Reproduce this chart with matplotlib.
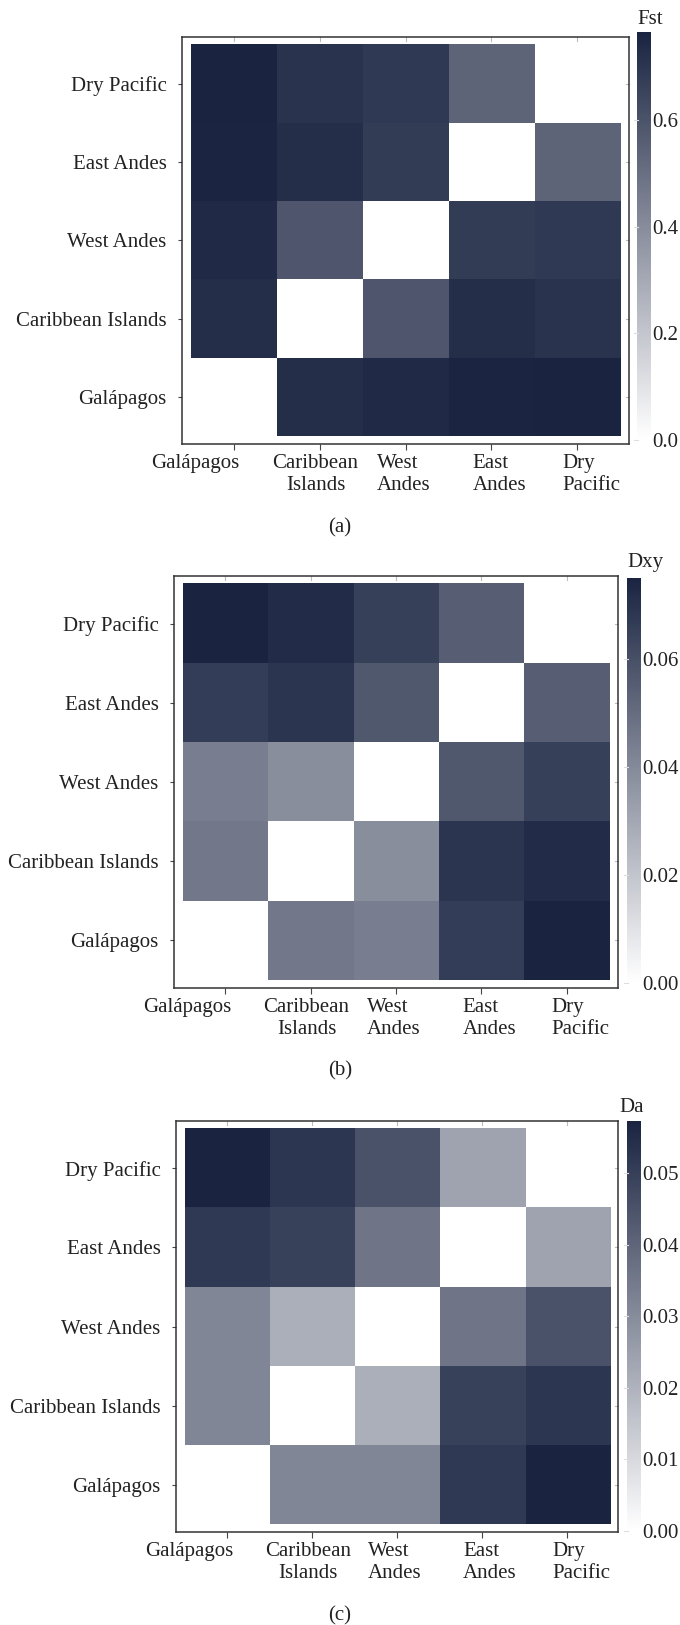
import matplotlib
matplotlib.use("Agg")
import matplotlib.pyplot as plt
import matplotlib.transforms as mtransforms
from matplotlib.colors import LinearSegmentedColormap
import numpy as np

plt.rcParams['font.family'] = ['Liberation Serif', 'DejaVu Serif']

# order of rows (bottom -> top) and columns (left -> right)
regions = ['Galápagos', 'Caribbean Islands', 'West Andes', 'East Andes', 'Dry Pacific']
x_labels = ['Galápagos', 'Caribbean\nIslands', 'West\nAndes', 'East\nAndes', 'Dry\nPacific']

fst = [
    [0.000, 0.730, 0.745, 0.760, 0.766],
    [0.730, 0.000, 0.590, 0.730, 0.710],
    [0.745, 0.590, 0.000, 0.680, 0.690],
    [0.760, 0.730, 0.680, 0.000, 0.540],
    [0.766, 0.710, 0.690, 0.540, 0.000],
]
dxy = [
    [0.0000, 0.0460, 0.0440, 0.0660, 0.0749],
    [0.0460, 0.0000, 0.0385, 0.0690, 0.0720],
    [0.0440, 0.0385, 0.0000, 0.0570, 0.0650],
    [0.0660, 0.0690, 0.0570, 0.0000, 0.0550],
    [0.0749, 0.0720, 0.0650, 0.0550, 0.0000],
]
da = [
    [0.0000, 0.0315, 0.0315, 0.0515, 0.0573],
    [0.0315, 0.0000, 0.0210, 0.0495, 0.0525],
    [0.0315, 0.0210, 0.0000, 0.0360, 0.0450],
    [0.0515, 0.0495, 0.0360, 0.0000, 0.0240],
    [0.0573, 0.0525, 0.0450, 0.0240, 0.0000],
]

fst_ticks = [0.0, 0.2, 0.4, 0.6]
dxy_ticks = [0.00, 0.02, 0.04, 0.06]
da_ticks = [0.00, 0.01, 0.02, 0.03, 0.04, 0.05]

W, H = 680, 1625
fig = plt.figure(figsize=(W / 100, H / 100), dpi=100)
cmap = LinearSegmentedColormap.from_list('navy', ['#ffffff', '#1a2441'])

# x label nudges (px) to mimic the hand-placed labels of the original
x_shift = [-38, -4, -2, 8, 14]
x_align = ['center', 'center', 'left', 'left', 'left']


def px_axes(l, r, t, b):
    return fig.add_axes([l / W, 1 - b / H, (r - l) / W, (b - t) / H])


def panel(values, ticks, fmt, title, caption, frame, cbox, title_xy, cap_y):
    vals = np.array(values)
    ax = px_axes(*frame)
    im = ax.imshow(vals, cmap=cmap, origin='lower', aspect='auto',
                   interpolation='nearest', vmin=0, vmax=vals.max())
    ax.set_xlim(-0.6, 4.6)
    ax.set_ylim(-0.6, 4.6)
    ax.set_xticks(range(5))
    ax.set_yticks(range(5))
    ax.set_xticklabels(x_labels, fontsize=15, color='#222222')
    ax.set_yticklabels(regions, fontsize=15, color='#222222')
    ax.tick_params(axis='x', length=4, width=0.8, color='#444444', pad=3)
    ax.tick_params(axis='y', length=3, width=0.8, color='#444444', pad=8)
    for spine in ax.spines.values():
        spine.set_linewidth(1.1)
        spine.set_color('#333333')
    for lab, dx, al in zip(ax.get_xticklabels(), x_shift, x_align):
        lab.set_multialignment(al)
        lab.set_transform(lab.get_transform() +
                          mtransforms.ScaledTranslation(dx / 100, 0, fig.dpi_scale_trans))
    # faint inner ticks on top / right
    for k in range(5):
        ax.plot([k, k], [4.6, 4.55], color='#bbbbbb', lw=0.8, clip_on=False)
        ax.plot([4.6, 4.57], [k, k], color='#bbbbbb', lw=0.8, clip_on=False)

    cax = px_axes(*cbox)
    cb = fig.colorbar(im, cax=cax, ticks=ticks)
    cb.outline.set_visible(False)
    cb.ax.set_yticklabels([fmt.format(t) for t in ticks])
    cax.tick_params(left=False, right=False, labelleft=False, labelright=True,
                    length=0, pad=1, labelsize=15, labelcolor='#222222')
    # small light tick dashes at the left edge of the bar
    trans = mtransforms.blended_transform_factory(cax.transAxes, cax.transData)
    for t in ticks:
        cax.plot([-0.25, 0.05], [t, t], color='#dddddd', lw=0.8,
                 transform=trans, clip_on=False)
    fig.text(title_xy[0] / W, 1 - title_xy[1] / H, title, fontsize=15,
             ha='left', va='center', color='#222222')
    fig.text(340 / W, 1 - cap_y / H, caption, fontsize=15, ha='center', va='center',
             color='#222222')


panel(fst, fst_ticks, '{:.1f}', 'Fst', '(a)',
      (182, 629, 37, 444), (637, 651, 32, 440), (637, 20), 528)
panel(dxy, dxy_ticks, '{:.2f}', 'Dxy', '(b)',
      (174, 618, 576, 988), (627, 641, 578, 983), (627, 563), 1071)
panel(da, da_ticks, '{:.2f}', 'Da', '(c)',
      (176, 618, 1121, 1532), (627, 641, 1121, 1531), (619, 1107), 1616)

fig.savefig('out.png', dpi=100, facecolor='white')
